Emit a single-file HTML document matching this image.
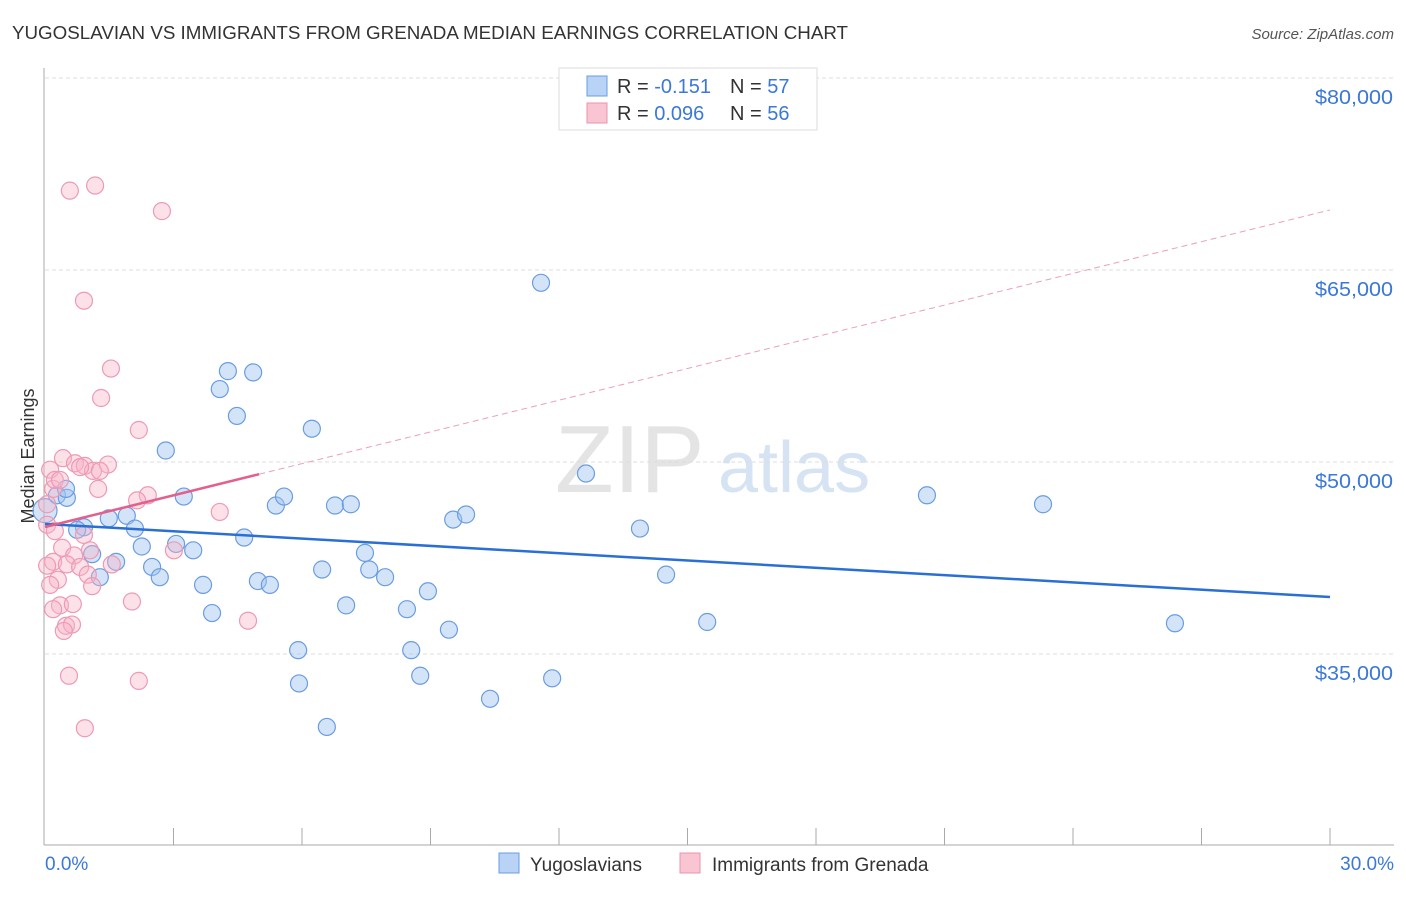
<!DOCTYPE html>
<html><head><meta charset="utf-8"><style>
body{margin:0;background:#fff;font-family:"Liberation Sans",sans-serif}
svg text{font-family:"Liberation Sans",sans-serif}
</style></head><body>
<svg id="c" width="1406" height="892">
<text x="12" y="39" font-size="18" fill="#333" textLength="836" lengthAdjust="spacingAndGlyphs">YUGOSLAVIAN VS IMMIGRANTS FROM GRENADA MEDIAN EARNINGS CORRELATION CHART</text>
<text x="1394" y="39" font-size="15" fill="#555" text-anchor="end" font-style="italic">Source: ZipAtlas.com</text>
<text x="555" y="492" font-size="96" fill="#e4e4e4" font-family="Liberation Serif">ZIP</text>
<text x="718" y="492" font-size="72" fill="#d6e3f3">atlas</text>
<text transform="translate(34,456) rotate(-90)" font-size="18" fill="#333" text-anchor="middle">Median Earnings</text>
<g id="grid"></g><g id="pts"></g><g id="lines"></g>
<g>
<rect x="559" y="68" width="258" height="62" fill="#fff" stroke="#ddd"/>
<rect x="587" y="76" width="20" height="20" fill="#b8d3f5" stroke="#6a9de0"/>
<rect x="587" y="103" width="20" height="20" fill="#f9c5d3" stroke="#ec93ad"/>
<text x="617" y="93" font-size="20" fill="#333">R = <tspan fill="#3b78d8">-0.151</tspan><tspan x="730">N = </tspan><tspan fill="#3b78d8">57</tspan></text>
<text x="617" y="120" font-size="20" fill="#333">R = <tspan fill="#3b78d8">0.096</tspan><tspan x="730">N = </tspan><tspan fill="#3b78d8">56</tspan></text>
</g>
<g>
<rect x="499" y="853" width="20" height="20" fill="#b8d3f5" stroke="#6a9de0"/>
<text x="530" y="871" font-size="19" fill="#333">Yugoslavians</text>
<rect x="680" y="853" width="20" height="20" fill="#f9c5d3" stroke="#ec93ad"/>
<text x="712" y="871" font-size="19" fill="#333">Immigrants from Grenada</text>
</g>
</svg>
<script>
const yTicks=[35000,50000,65000,80000];
const yTickLabels=["$35,000","$50,000","$65,000","$80,000"];
const xTickLabels=["0.0%","30.0%"];
const blueTrend=[45160,39450];
const pinkTrend=[44920,69690];
const blueX=[0,0.28,0.51,0.91,0.75,0.49,1.1,1.28,1.49,1.66,1.91,2.1,2.26,2.5,2.68,2.82,3.06,3.24,3.46,3.69,3.9,4.08,4.27,4.48,4.65,4.86,4.97,5.25,5.39,5.58,5.91,5.93,6.23,6.47,6.58,6.77,7.03,7.14,7.47,7.57,7.94,8.45,8.55,8.76,8.94,9.43,9.53,9.83,10.39,11.58,11.84,12.63,13.89,14.5,15.46,20.59,23.3,26.38];
const blueY=[46200,47400,47200,44900,44700,47900,42800,41000,45600,42200,45800,44800,43400,41800,41000,50900,43600,47300,43100,40400,38200,55700,57100,53600,44100,57000,40700,40400,46600,47300,35300,32700,52600,41600,29300,46600,38800,46700,42900,41600,41000,38500,35300,33300,39900,36900,45500,45900,31500,64000,33100,49100,44800,41200,37500,47400,46700,37400];
const pinkX=[0.58,1.17,2.73,0.91,1.31,1.54,2.19,0.12,0.42,0.7,0.93,1.12,0.19,1.24,2.4,2.15,4.08,0.05,0.23,0.91,0.4,1.05,0.68,0.19,0.51,0.82,0.05,1.0,0.3,0.12,1.1,1.56,3.01,2.03,0.35,0.65,0.19,0.49,0.63,0.44,4.74,0.56,2.19,0.93,0.05,0.23,0.35,1.47,0.82,1.28];
const pinkY=[71200,71600,69600,62600,55000,57300,52500,49400,50300,49900,49700,49300,47900,47900,47400,47000,46100,45100,44600,44300,43300,43100,42700,42200,42000,41800,41900,41200,40800,40400,40300,42000,43100,39100,38800,38900,38500,37200,37300,36800,37600,33300,32900,29200,46700,48600,48600,49800,49600,49300];
const NS='http://www.w3.org/2000/svg';
const X0=45,X1=1330,Y80=78,PPK=0.0128;
const xs=p=>X0+(X1-X0)*p/30;
const ys=v=>Y80+(80000-v)*PPK;
function mk(t,a,parent){const e=document.createElementNS(NS,t);for(const k in a)e.setAttribute(k,a[k]);document.getElementById(parent).appendChild(e);return e;}
yTicks.forEach((v,i)=>{
 const g=mk('line',{x1:45,x2:1394,y1:ys(v),y2:ys(v),stroke:'#ddd','stroke-dasharray':'4,3'},'grid');
 
 
 const t=mk('text',{x:1393,y:ys(v)+26,'font-size':20,fill:'#3b78d8','text-anchor':'end',textLength:78,lengthAdjust:'spacingAndGlyphs'},'grid');
 t.textContent=yTickLabels[i];
 
 
});
const ax=mk('line',{x1:44,x2:44,y1:68,y2:845,stroke:'#aaa'},'grid');


const bx=mk('line',{x1:44,x2:1394,y1:845,y2:845,stroke:'#aaa'},'grid');


for(let i=1;i<=10;i++){const tk=mk('line',{x1:xs(i*3),x2:xs(i*3),y1:828,y2:845,stroke:'#aaa'},'grid');
 
 }
xTickLabels.forEach((l,i)=>{const t=mk('text',{x:i?1394:45,y:870,'font-size':19,fill:'#3b78d8','text-anchor':i?'end':'start'},'grid');t.textContent=l;
 
 });
blueX.forEach((x,i)=>{const c=mk('circle',{cx:xs(x),cy:ys(blueY[i]),r:i==0?12:8.5,fill:'rgba(160,196,240,0.45)',stroke:'#6a9de0','stroke-width':1.2},'pts');
 
 });
pinkX.forEach((x,i)=>{const c=mk('circle',{cx:xs(x),cy:ys(pinkY[i]),r:8.5,fill:'rgba(248,180,200,0.4)',stroke:'#ee9ab4','stroke-width':1.2},'pts');
 
 });
const pv=x=>pinkTrend[0]+(pinkTrend[1]-pinkTrend[0])*x/30;
let l=mk('line',{x1:xs(0),y1:ys(blueTrend[0]),x2:xs(30),y2:ys(blueTrend[1]),stroke:'#2a6fd6','stroke-width':2.5},'lines');


l=mk('line',{x1:xs(0),y1:ys(pv(0)),x2:xs(5),y2:ys(pv(5)),stroke:'#e4608c','stroke-width':2.5},'lines');


l=mk('line',{x1:xs(5),y1:ys(pv(5)),x2:xs(30),y2:ys(pv(30)),stroke:'#eaa0b8','stroke-width':1,'stroke-dasharray':'6,4'},'lines');


</script>
</body></html>
